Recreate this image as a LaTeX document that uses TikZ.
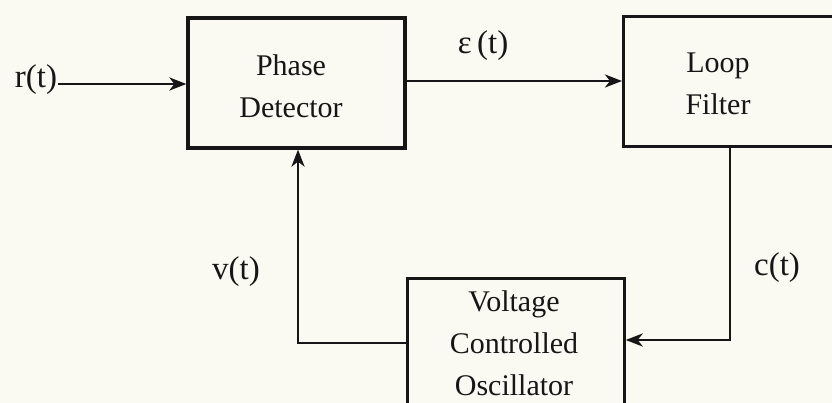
\documentclass[tikz,border=0pt]{standalone}
\usepackage{fontspec}
\setmainfont{Liberation Serif}
\usetikzlibrary{arrows.meta}
\definecolor{paper}{RGB}{251,250,242}
\definecolor{ink}{RGB}{22,22,22}
\begin{document}
\begin{tikzpicture}[x=1pt,y=-1pt,
  boxline/.style={draw=ink, line width=3.2pt},
  blocktext/.style={text=ink, align=center, font=\fontsize{30}{42}\selectfont, inner sep=0pt},
  sig/.style={text=ink, font=\fontsize{33}{40}\selectfont, inner sep=0pt},
  wire/.style={draw=ink, line width=2.8pt},
  arr/.style={wire, -{Stealth[length=17pt,width=13pt,inset=5pt]}}]
\fill[paper] (0,0) rectangle (832,403);
\useasboundingbox (0,0) rectangle (832,403);
% blocks
\node[boxline, rectangle, minimum width=217pt, minimum height=130pt, inner sep=0pt] (pd) at (296.5,83) {};
\node[blocktext] (pdt) at (291,86) {Phase\\Detector};
\node[boxline, rectangle, minimum width=230pt, minimum height=130pt, inner sep=0pt, anchor=north west] (lf) at (622,15) {};
\node[blocktext] (lft) at (718,84) {Loop\\Filter};
\node[boxline, rectangle, minimum width=217pt, minimum height=150pt, inner sep=0pt, anchor=north west] (vco) at (405.5,277) {};
\node[blocktext] (vcot) at (514,343) {Voltage\\Controlled\\Oscillator};
% signals
\node[sig] (r) at (36,80) {r(t)};
\node[sig] (eps) at (483,46) {ε\,(t)};
\node[sig] (v) at (236,272) {v(t)};
\node[sig] (c) at (777,268) {c(t)};
\coordinate (rin) at (58,84);
\coordinate (lfdown) at (730,145);
\coordinate (lfcorner) at (730,340);
\coordinate (vleft) at (298,343);
% connectors
\draw[arr] (rin) -- (pd.west |- rin);
\draw[arr] (pd.east |- 0,81) -- (lf.west |- 0,81);
\draw[arr] (lfdown) -- (lfcorner) -- (vco.east |- lfcorner);
\draw[arr] (vco.west |- vleft) -- (vleft) -- (vleft |- pd.south);
\end{tikzpicture}
\end{document}
